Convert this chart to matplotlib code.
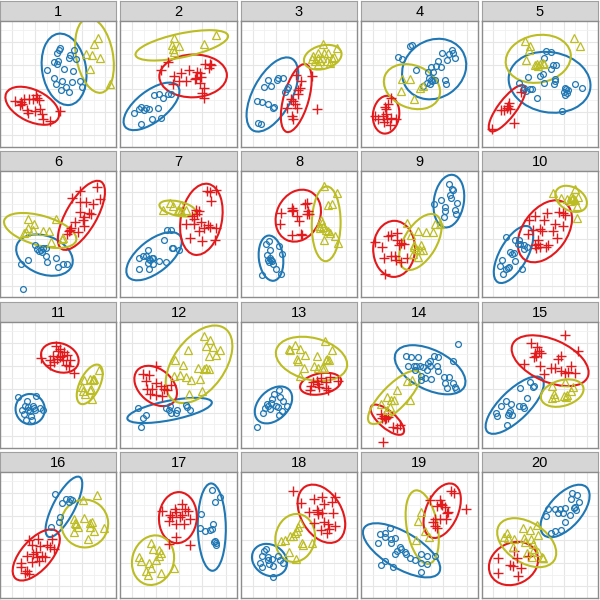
import numpy as np
import matplotlib
matplotlib.use("Agg")
import matplotlib.pyplot as plt
from matplotlib.patches import Ellipse

plt.rcParams['font.family'] = ['Liberation Sans', 'DejaVu Sans']

# points per panel, per group: circle (blue), plus (red), triangle (olive)
p1_circle = [(17.8,29.8),(17.5,29.0),(17.0,28.3),(16.0,25.6),(17.3,25.8),(21.0,27.6),(20.7,26.8),(22.2,29.0),(22.8,26.3),(14.2,23.0),(19.0,23.3),(21.8,22.8),(16.0,20.8),(16.8,19.0),(18.5,19.8),(21.5,19.6),(23.8,19.8),(24.5,18.0),(18.3,17.0),(19.8,18.0),(20.7,16.6),(17.0,24.8)]
p1_plus = [(10.8,15.5),(11.2,14.8),(10.0,14.5),(8.8,14.5),(11.8,14.2),(7.2,14.3),(4.5,13.8),(6.2,13.6),(6.5,12.8),(12.0,11.3),(8.0,11.0),(8.5,10.3),(12.5,9.8),(10.5,10.8),(12.8,8.3),(15.0,7.8),(17.8,10.8),(6.0,12.6)]
p1_tri = [(29.2,32.6),(28.2,30.8),(25.8,27.8),(27.5,27.5),(29.8,26.6),(26.8,23.5),(33.0,18.8)]

p2_circle = [(10.0,15.6),(11.5,15.8),(12.7,14.6),(14.2,15.8),(15.2,16.0),(6.2,12.0),(7.7,11.6),(7.2,11.0),(5.7,11.3),(4.2,10.3),(8.5,11.3),(11.2,11.8),(12.2,8.6),(9.5,8.3),(6.2,6.8)]
p2_plus = [(14.2,25.6),(12.2,23.0),(18.2,22.3),(20.5,23.0),(22.9,22.6),(25.2,24.8),(27.2,24.5),(26.5,23.8),(23.7,22.3),(24.2,21.0),(22.2,20.3),(19.5,19.8),(15.9,21.3),(17.5,19.8),(15.7,19.0),(23.7,19.3),(24.9,17.8),(24.5,16.3),(24.9,14.8),(22.5,20.8),(26.7,25.0)]
p2_tri = [(16.0,32.6),(15.5,30.6),(17.5,30.3),(15.7,29.3),(15.9,28.6),(24.9,30.8),(28.5,33.5)]

p3_circle = [(8.0,20.0),(10.7,20.0),(11.2,20.6),(12.7,20.6),(7.0,18.0),(9.0,18.3),(13.7,17.3),(13.2,16.6),(4.7,13.8),(6.2,13.6),(8.0,13.0),(10.0,12.0),(9.7,11.6),(5.2,7.3),(6.0,6.8),(14.0,18.0)]
p3_plus = [(16.4,21.6),(18.0,19.8),(21.4,21.3),(17.2,17.0),(17.7,17.6),(17.0,16.0),(15.0,14.3),(15.7,13.8),(13.7,11.8),(16.7,11.6),(22.7,11.3),(15.2,9.3),(15.7,8.3),(16.2,12.8)]
p3_tri = [(24.7,30.8),(28.7,29.8),(23.2,28.3),(25.0,28.3),(26.2,28.3),(21.7,27.3),(23.0,26.8),(24.2,26.6),(22.2,25.8),(23.7,25.8),(25.7,25.8),(27.4,26.6),(28.0,27.0),(26.7,25.3),(21.2,26.3),(23.2,25.0)]

p4_circle = [(14.5,30.3),(15.2,30.5),(11.0,27.0),(12.2,26.3),(16.5,23.1),(24.2,28.3),(27.0,29.0),(27.5,28.3),(26.2,27.8),(23.0,25.8),(25.8,26.0),(21.0,24.0),(22.5,24.3),(24.0,24.0),(28.0,26.8),(20.0,22.6),(21.5,22.6),(20.2,20.6),(21.0,20.0),(22.0,20.0),(19.8,19.3),(20.5,18.8),(25.0,20.0),(25.5,19.0),(18.5,18.3),(21.2,19.8)]
p4_plus = [(9.0,14.8),(8.0,13.0),(7.0,12.0),(7.5,11.3),(4.0,9.3),(6.5,9.3),(9.0,8.8),(10.5,8.3),(7.8,8.3),(5.0,8.3),(6.8,7.6),(8.5,6.6),(7.5,9.8)]
p4_tri = [(12.3,20.3),(14.5,20.3),(11.8,16.8),(17.5,17.6),(15.8,14.3),(18.5,18.3)]

p5_circle = [(19.3,28.8),(20.6,28.6),(18.8,26.6),(21.3,24.6),(22.3,24.6),(20.6,23.3),(18.3,21.8),(14.0,21.0),(17.6,21.3),(11.3,19.3),(12.6,17.6),(13.3,16.8),(14.6,17.3),(15.0,17.3),(18.8,19.3),(21.8,19.8),(22.0,20.3),(21.6,19.0),(25.0,17.8),(25.3,17.3),(25.8,17.0),(24.6,16.6),(25.0,15.6),(28.0,19.0),(30.0,17.6),(16.6,14.8),(24.0,10.8),(12.3,17.0),(25.6,16.3)]
p5_plus = [(8.3,13.3),(8.0,12.3),(7.6,11.6),(8.6,11.3),(5.8,11.0),(6.8,11.0),(9.6,7.3),(3.0,5.3),(11.8,16.6)]
p5_tri = [(13.0,31.8),(14.6,30.3),(14.3,29.0),(13.3,26.0),(16.0,24.6),(16.8,24.3),(17.6,24.8),(18.6,24.8),(18.3,25.3),(27.6,32.6),(29.3,30.3),(16.6,25.0)]

p6_circle = [(10.5,15.6),(11.2,14.6),(12.2,14.3),(11.8,13.9),(13.0,14.9),(13.8,14.9),(6.2,9.9),(8.5,11.3),(13.8,12.3),(16.8,11.9),(14.2,10.6),(17.2,9.1),(18.8,9.9),(20.0,10.1),(6.8,2.6),(12.5,13.6)]
p6_plus = [(23.8,31.9),(29.0,33.1),(21.5,29.9),(24.0,28.6),(25.8,28.6),(27.8,28.1),(29.8,29.6),(24.0,25.6),(26.5,25.3),(27.2,25.1),(25.2,24.1),(24.8,23.1),(22.5,22.6),(21.2,20.9),(23.2,19.6),(25.0,21.3),(20.5,19.9),(20.0,19.1),(20.8,20.3)]
p6_tri = [(8.5,23.6),(10.2,22.1),(16.8,23.6),(8.5,20.9),(9.8,20.3),(7.8,19.6),(12.8,19.9),(14.5,19.9),(7.2,19.3),(15.2,16.6),(18.5,17.6),(18.8,17.9)]

p7_circle = [(13.9,20.3),(15.2,20.3),(12.9,17.1),(15.7,14.9),(15.5,14.9),(17.5,14.3),(8.2,14.3),(6.7,12.3),(5.7,11.9),(7.7,12.3),(8.5,11.6),(9.7,11.9),(8.9,11.1),(8.2,10.3),(9.7,9.9),(11.5,10.9),(13.5,10.6),(8.5,8.6),(5.7,8.6),(9.5,11.9)]
p7_plus = [(25.9,31.9),(26.9,31.6),(28.5,32.1),(27.2,28.9),(22.5,26.1),(23.5,25.9),(21.5,24.3),(21.9,23.6),(19.7,21.9),(21.9,21.9),(24.2,22.6),(26.2,21.6),(23.5,19.9),(24.9,20.9),(28.5,20.9),(26.7,21.1),(20.9,17.9),(24.5,16.9),(28.2,17.3),(22.9,25.1)]
p7_tri = [(14.7,28.3),(15.7,27.3),(18.2,27.6),(17.5,26.1),(18.2,25.9),(19.7,26.1),(12.7,26.1),(17.2,26.3)]

p8_circle = [(8.4,16.9),(7.4,15.9),(11.4,15.3),(8.7,14.1),(12.4,13.1),(7.7,12.6),(8.7,11.9),(8.0,11.1),(9.2,10.9),(8.4,10.6),(9.7,10.1),(10.4,8.6),(6.4,6.6),(12.0,6.9),(9.0,11.3)]
p8_plus = [(19.7,28.3),(19.2,27.9),(15.2,26.9),(15.7,26.3),(12.0,25.3),(20.0,25.9),(20.4,25.1),(19.7,24.9),(16.7,24.3),(17.4,22.9),(11.7,22.1),(15.2,18.6),(18.0,18.9),(18.4,18.6),(15.4,25.9)]
p8_tri = [(25.0,33.3),(28.7,31.3),(26.0,27.6),(27.2,27.9),(24.0,23.1),(24.2,22.3),(23.4,21.3),(24.7,21.1),(25.4,20.1),(26.0,19.9),(26.7,19.3),(28.2,18.3),(25.0,17.3),(29.2,16.3),(23.7,20.9)]

p9_circle = [(26.2,33.9),(27.0,32.6),(26.5,30.6),(26.8,29.9),(24.0,29.3),(21.8,28.1),(28.5,28.3),(25.0,27.1),(28.0,26.3),(25.0,25.9),(28.2,25.1),(24.8,24.1),(27.5,32.3)]
p9_plus = [(10.8,19.3),(8.0,18.3),(9.0,18.6),(10.8,17.1),(11.8,16.3),(12.8,15.9),(4.0,16.6),(6.2,15.1),(6.8,11.9),(8.8,12.3),(10.0,12.3),(10.5,11.3),(11.8,10.6),(13.8,11.9),(7.2,6.9),(11.2,15.6)]
p9_tri = [(13.8,22.3),(17.0,19.9),(19.5,19.6),(21.5,19.6),(22.0,22.1),(23.5,21.9),(15.0,18.6),(15.8,15.6),(16.5,14.6),(18.0,15.6),(18.5,14.3),(17.5,14.1),(15.5,12.9),(17.0,12.1),(15.8,15.1)]

p10_circle = [(7.3,18.1),(10.0,17.3),(11.3,17.1),(10.8,16.1),(12.6,15.6),(12.8,14.6),(13.6,15.1),(8.6,13.6),(9.6,13.3),(9.0,13.1),(6.0,11.1),(10.0,10.9),(5.6,9.3),(8.0,8.9),(8.3,9.1),(7.3,8.6),(12.0,8.6),(6.3,7.1),(11.6,16.1)]
p10_plus = [(19.6,25.3),(23.0,25.6),(24.3,25.3),(25.0,24.6),(16.0,24.3),(14.3,23.1),(18.6,23.1),(22.0,21.9),(24.3,21.3),(15.3,20.3),(17.6,20.6),(18.0,19.9),(21.3,19.9),(14.0,18.9),(22.6,17.9),(16.8,17.1),(16.0,15.6),(17.0,15.9),(17.6,15.1),(20.0,15.6),(19.3,15.1),(16.3,14.9)]
p10_tri = [(21.3,31.3),(23.8,29.9),(25.6,29.6),(26.6,30.1),(27.3,29.9),(27.8,29.3),(26.3,28.9),(28.8,30.1),(28.6,27.3),(28.6,23.9),(28.0,32.6),(27.0,29.6)]

p11_circle = [(5.5,15.2),(10.8,15.6),(8.2,13.9),(9.8,12.6),(7.5,12.4),(6.5,11.4),(8.5,11.4),(10.2,11.9),(12.0,11.9),(12.8,11.2),(10.5,11.2),(9.0,10.9),(7.2,10.2),(9.2,9.4),(7.8,8.4),(9.5,8.2),(8.5,12.2)]
p11_plus = [(16.8,30.6),(17.8,29.6),(17.2,28.9),(19.2,28.6),(20.0,27.9),(15.8,27.6),(18.0,27.2),(18.8,26.4),(21.0,26.4),(12.2,26.9),(14.8,26.2),(16.2,25.6),(15.0,24.9),(19.8,24.9),(20.5,24.6),(22.2,22.4),(18.5,27.6),(17.0,26.6)]
p11_tri = [(29.5,23.2),(26.8,20.6),(27.8,20.6),(28.2,20.6),(25.0,20.4),(24.5,18.2),(26.8,17.4),(27.2,17.6),(27.5,14.6),(24.8,16.9),(25.5,16.2),(27.8,20.2)]

p12_circle = [(5.2,11.9),(7.7,9.9),(6.9,8.9),(6.2,6.2),(13.7,11.9),(14.9,12.6),(16.9,11.4),(15.2,10.4),(16.5,10.4),(19.5,12.9),(19.9,12.2),(20.9,11.4),(14.5,11.4)]
p12_plus = [(10.7,24.4),(6.7,22.2),(8.5,21.9),(7.7,19.9),(10.5,19.4),(7.9,17.6),(9.5,17.6),(12.2,18.4),(12.9,17.6),(13.9,17.4),(15.2,18.9),(10.5,15.9),(12.5,15.6),(8.9,16.2)]
p12_tri = [(24.9,33.4),(26.7,32.4),(25.5,30.4),(27.7,30.2),(20.2,29.2),(29.7,29.4),(26.5,27.4),(28.5,27.9),(16.2,26.2),(18.7,24.9),(23.2,23.9),(24.9,23.6),(25.7,23.9),(26.5,23.6),(17.7,21.9),(15.9,21.6),(19.5,21.2),(21.2,20.2),(23.7,20.6),(24.5,16.9),(20.5,16.2)]

p13_circle = [(11.4,17.2),(10.0,16.2),(11.7,15.2),(9.2,14.6),(7.7,13.2),(9.0,13.4),(10.4,12.6),(11.2,12.2),(13.7,12.4),(7.2,11.9),(8.7,11.6),(6.7,10.4),(12.2,10.9),(11.4,9.9),(4.7,6.2),(12.7,13.9),(8.0,12.4)]
p13_plus = [(24.0,20.9),(26.7,21.2),(29.2,19.9),(21.7,19.6),(23.2,19.2),(25.4,19.6),(21.0,18.6),(23.4,18.2),(25.4,17.9),(20.7,17.2),(26.0,17.2),(22.7,19.9)]
p13_tri = [(16.2,30.9),(14.4,29.6),(14.7,29.4),(17.7,29.6),(25.2,31.9),(27.2,29.4),(19.2,27.9),(22.7,27.4),(16.7,26.6),(17.2,25.9),(25.7,26.6),(26.4,26.2),(25.4,26.4),(19.0,23.9),(22.0,24.4),(24.2,23.9),(25.0,23.9),(17.7,21.4),(23.2,23.9)]

p14_circle = [(28.8,31.2),(13.5,27.4),(15.0,27.2),(17.0,27.2),(21.8,27.6),(23.0,27.2),(20.5,25.9),(20.0,25.4),(27.5,25.9),(14.0,24.4),(15.8,24.6),(16.5,24.4),(17.5,24.4),(18.5,24.2),(20.5,24.6),(22.8,24.6),(16.0,23.2),(19.8,23.2),(23.0,22.9),(18.0,21.4),(19.0,20.9),(21.0,20.6),(24.8,21.2),(26.2,21.2),(25.0,19.4),(27.5,19.4),(25.8,17.9),(28.0,18.2),(18.0,20.2),(28.2,17.6)]
p14_plus = [(5.8,10.2),(6.8,9.6),(8.0,9.2),(6.2,8.9),(7.5,8.9),(7.0,8.6),(11.5,6.9),(9.5,6.2),(10.8,5.9),(6.5,1.6)]
p14_tri = [(13.8,19.9),(15.2,20.4),(10.8,17.4),(7.8,15.2),(9.0,14.4),(9.8,14.2),(14.5,14.4),(8.5,12.2),(5.8,13.2),(7.8,11.4)]

p15_circle = [(14.6,19.6),(15.3,18.2),(15.8,18.6),(11.6,17.9),(13.6,14.9),(7.3,13.9),(5.8,12.6),(8.8,13.2),(11.3,12.4),(12.3,12.6),(12.8,11.9),(8.6,10.9),(8.3,10.4),(9.0,9.9),(4.3,10.4),(4.6,9.6),(8.0,9.9),(7.6,6.9)]
p15_plus = [(25.0,33.9),(14.8,31.4),(16.6,30.2),(17.3,28.9),(17.8,28.4),(16.0,28.4),(15.6,27.2),(28.8,28.9),(23.8,27.4),(22.8,26.6),(12.6,25.2),(17.6,24.4),(20.8,23.9),(22.0,23.9),(26.6,24.4),(23.8,22.9),(25.0,22.4),(25.8,22.6),(27.8,22.4),(18.8,22.2),(16.3,27.6)]
p15_tri = [(21.0,18.6),(25.0,19.6),(27.3,18.2),(26.6,16.9),(21.6,16.2),(22.0,15.2),(24.6,15.4),(25.3,15.2),(21.0,14.9),(25.6,15.9)]

p16_circle = [(16.5,31.2),(19.8,29.6),(21.0,29.6),(21.5,29.4),(18.5,28.4),(20.5,28.9),(18.0,24.2),(17.5,22.9),(15.2,21.2)]
p16_plus = [(8.8,17.4),(11.5,17.6),(15.5,17.6),(9.5,15.9),(12.0,15.6),(14.0,15.9),(16.2,14.6),(10.8,13.9),(10.0,13.2),(11.2,12.4),(12.5,12.6),(13.5,12.2),(8.2,12.6),(6.2,10.6),(9.5,10.9),(11.8,11.2),(6.2,9.2),(8.0,8.2),(8.8,7.2),(7.5,7.6),(14.8,15.2)]
p16_tri = [(29.0,30.9),(24.8,29.4),(25.0,23.9),(22.2,23.6),(22.8,22.2),(23.2,21.4),(26.8,22.6),(27.5,22.9),(27.0,21.2),(28.2,20.2),(31.2,20.9),(22.2,19.9),(26.2,17.6),(22.5,22.4)]

p17_circle = [(27.5,32.4),(29.9,30.2),(28.2,28.9),(24.2,25.2),(27.7,22.2),(23.9,20.9),(25.2,20.2),(26.7,20.4),(27.5,20.6),(28.2,17.2),(28.5,16.6),(27.9,16.9),(28.7,15.9)]
p17_plus = [(18.5,28.2),(16.2,26.6),(16.7,25.9),(12.5,26.2),(19.2,26.6),(20.2,26.2),(18.5,24.9),(14.7,24.9),(17.7,24.2),(20.7,23.6),(14.5,23.2),(16.5,22.2),(18.9,22.2),(16.5,18.2),(14.5,16.2),(20.9,15.9),(15.5,24.4)]
p17_tri = [(9.2,16.6),(9.7,14.6),(11.5,14.4),(12.2,13.6),(11.5,12.6),(10.7,11.4),(5.7,12.2),(6.2,11.2),(8.5,10.4),(9.2,8.9),(7.7,8.2),(8.2,6.9),(12.2,7.4),(15.9,8.9)]

p18_circle = [(7.4,14.6),(7.0,14.2),(6.4,12.6),(8.0,12.2),(9.4,11.6),(11.0,12.6),(11.7,11.4),(12.7,10.6),(8.4,10.2),(9.7,9.6),(5.7,10.4),(6.2,9.2),(9.7,6.4),(8.0,11.4)]
p18_plus = [(15.7,32.2),(18.0,28.6),(22.0,29.6),(24.4,30.2),(28.2,30.4),(25.0,28.2),(27.4,28.9),(20.4,25.9),(22.7,26.4),(23.2,25.9),(24.2,25.4),(27.7,25.4),(22.0,22.6),(25.0,22.9),(26.0,22.2),(24.0,20.4),(26.4,20.6),(28.2,21.6),(25.7,19.4),(23.0,25.2)]
p18_tri = [(17.7,22.6),(17.2,21.2),(16.7,20.2),(16.2,19.4),(14.7,18.6),(13.2,17.4),(12.0,17.2),(15.7,18.6),(18.4,16.6),(18.7,15.9),(21.2,16.4),(14.4,13.9),(16.4,11.6)]

p19_circle = [(8.5,20.9),(7.0,19.6),(5.5,19.2),(7.2,18.2),(9.0,17.6),(10.0,17.9),(5.0,16.4),(9.0,16.4),(11.5,15.2),(12.0,14.6),(10.8,14.2),(13.0,13.9),(10.2,13.2),(13.5,13.2),(14.5,11.9),(16.0,11.4),(17.8,13.2),(19.8,12.6),(22.2,12.6),(7.0,11.2),(6.0,9.9),(9.5,9.4),(17.8,10.6),(19.8,10.2),(18.0,7.9)]
p19_plus = [(26.8,32.2),(27.8,31.6),(20.5,29.4),(23.5,29.4),(24.2,27.9),(25.2,27.2),(22.8,27.6),(26.0,25.9),(25.8,25.4),(31.2,26.6),(22.0,23.6),(23.5,23.6),(25.5,23.6),(21.5,22.9),(22.2,21.6),(22.8,20.9),(24.0,28.2)]
p19_tri = [(17.8,25.9),(17.0,23.2),(19.2,20.2),(20.2,18.4),(16.5,17.4)]

p20_circle = [(27.0,31.6),(28.6,30.9),(26.6,29.6),(29.0,28.9),(20.0,26.6),(22.0,26.6),(23.3,26.6),(24.8,26.9),(27.6,26.9),(28.3,26.4),(22.8,25.4),(24.3,25.4),(26.3,24.9),(19.3,24.6),(25.0,22.9),(23.8,20.4),(22.0,20.2),(20.6,19.6),(28.0,27.4)]
p20_plus = [(9.6,14.2),(5.0,11.9),(10.6,11.9),(8.6,9.9),(9.3,9.6),(11.8,8.9),(5.0,7.4),(10.8,6.6),(13.8,12.6)]
p20_tri = [(16.6,21.9),(12.3,20.9),(14.6,20.4),(16.8,18.9),(7.6,19.6),(6.6,18.2),(7.8,17.9),(9.6,17.6),(12.8,17.9),(14.8,17.6),(13.0,16.9),(15.3,16.2),(15.8,14.6),(17.0,13.9),(13.6,13.4),(15.0,12.2),(18.0,12.2),(18.3,11.9),(9.3,15.2)]

panels = [
    (p1_circle, p1_plus, p1_tri), (p2_circle, p2_plus, p2_tri),
    (p3_circle, p3_plus, p3_tri), (p4_circle, p4_plus, p4_tri),
    (p5_circle, p5_plus, p5_tri), (p6_circle, p6_plus, p6_tri),
    (p7_circle, p7_plus, p7_tri), (p8_circle, p8_plus, p8_tri),
    (p9_circle, p9_plus, p9_tri), (p10_circle, p10_plus, p10_tri),
    (p11_circle, p11_plus, p11_tri), (p12_circle, p12_plus, p12_tri),
    (p13_circle, p13_plus, p13_tri), (p14_circle, p14_plus, p14_tri),
    (p15_circle, p15_plus, p15_tri), (p16_circle, p16_plus, p16_tri),
    (p17_circle, p17_plus, p17_tri), (p18_circle, p18_plus, p18_tri),
    (p19_circle, p19_plus, p19_tri), (p20_circle, p20_plus, p20_tri),
]

blue = '#1f77b4'
red = '#e3191c'
olive = '#bcbd22'
styles = [(blue, 'o', 4.2), (red, '+', 7.5), (olive, '^', 5.5)]


def trob(xy, nu=5, iters=100):
    # multivariate t location/scatter (like MASS::cov.trob)
    n, p = xy.shape
    w = np.ones(n)
    loc = xy.mean(axis=0)
    for _ in range(iters):
        X = xy - loc
        S = (X * w[:, None]).T @ X / w.sum()
        Q = np.einsum('ij,jk,ik->i', X, np.linalg.inv(S), X)
        w_new = (nu + p) / (nu + Q)
        loc = (w_new[:, None] * xy).sum(axis=0) / w_new.sum()
        done = np.all(np.abs(w_new - w) < 1e-6)
        w = w_new
        if done:
            break
    X = xy - loc
    cov = (X * w[:, None]).T @ X / n
    return loc, cov


def conf_ellipse(ax, pts, color, level=0.95):
    xy = np.array(pts)
    n = len(xy)
    center, cov = trob(xy)
    vals, vecs = np.linalg.eigh(cov)
    # F(2, n-1) quantile has closed form
    m = n - 1
    f = (m / 2.0) * ((1 - level) ** (-2.0 / m) - 1)
    r = np.sqrt(2 * f)
    angle = np.degrees(np.arctan2(vecs[1, 1], vecs[0, 1]))
    w = 2 * r * np.sqrt(vals[1])
    h = 2 * r * np.sqrt(vals[0])
    ax.add_patch(Ellipse(center, w, h, angle=angle, fill=False,
                         edgecolor=color, lw=1.5))


fig = plt.figure(figsize=(6, 6), dpi=100)
W, H = 600.0, 600.0
pw, gap = 116.4, 4.0
strip_h, plot_h, row_gap = 20.0, 126.0, 4.3

for i, groups in enumerate(panels):
    r, c = divmod(i, 5)
    left = c * (pw + gap)
    top = 1 + r * (strip_h + plot_h + row_gap)
    sax = fig.add_axes([left / W, 1 - (top + strip_h) / H, pw / W, strip_h / H])
    sax.set_facecolor('#d6d6d6')
    sax.set_xticks([]); sax.set_yticks([])
    for s in sax.spines.values():
        s.set_color('#a0a0a0'); s.set_linewidth(0.8)
    sax.text(0.5, 0.45, str(i + 1), ha='center', va='center', fontsize=10.5,
             transform=sax.transAxes)

    ax = fig.add_axes([left / W, 1 - (top + strip_h + plot_h) / H, pw / W, plot_h / H])
    ax.set_xlim(0, 34.8)
    ax.set_ylim(0, 37.8)
    ax.set_xticks(np.arange(3.5, 34.8, 7.0))
    ax.set_xticks(np.arange(0, 34.8, 7.0)[1:], minor=True)
    ax.set_yticks(np.arange(3.5, 37.8, 7.0))
    ax.set_yticks(np.arange(0, 37.8, 7.0)[1:], minor=True)
    ax.grid(True, which='major', color='#e6e6e6', lw=0.8)
    ax.grid(True, which='minor', color='#f0f0f0', lw=0.6)
    ax.tick_params(which='both', length=0, labelbottom=False, labelleft=False)
    ax.set_axisbelow(True)
    for s in ax.spines.values():
        s.set_color('#8c8c8c'); s.set_linewidth(1.0)

    for pts, (col, mk, ms) in zip(groups, styles):
        xy = np.array(pts)
        if mk == '+':
            ax.plot(xy[:, 0], xy[:, 1], mk, color=col, ms=ms, mew=1.0)
        else:
            ax.plot(xy[:, 0], xy[:, 1], mk, mfc='none', mec=col, ms=ms, mew=0.9)
        conf_ellipse(ax, pts, col)

fig.savefig('out.png', dpi=100)
